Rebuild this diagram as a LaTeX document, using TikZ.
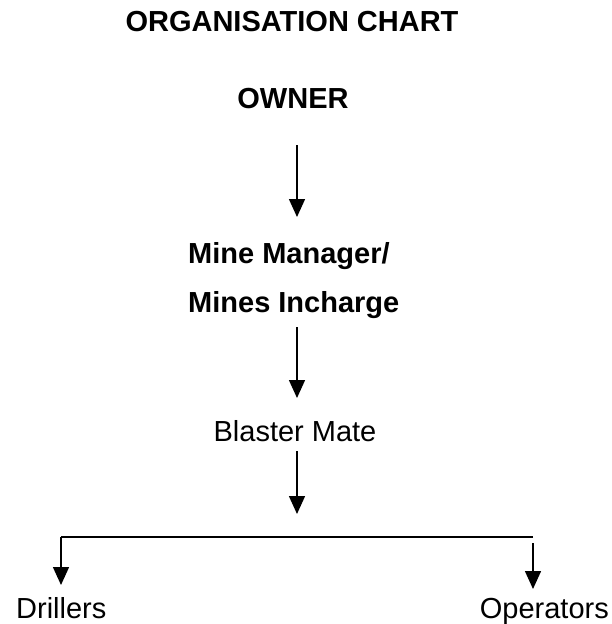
\documentclass[tikz,border=0pt]{standalone}
\usepackage{fontspec}
\setmainfont{Liberation Sans}
\usetikzlibrary{arrows.meta}
\begin{document}
\begin{tikzpicture}[x=1pt,y=-1pt,
  lbl/.style={inner sep=0pt,font=\fontsize{29}{34}\selectfont},
  blbl/.style={lbl,font=\fontsize{29}{34}\selectfont\bfseries},
  arr/.style={line width=1.5pt,-{Triangle[width=16pt,length=18pt]}},
  ln/.style={line width=1.5pt}]
\useasboundingbox (0,0) rectangle (612,624);
\node[blbl,anchor=base] (title) at (292,31) {ORGANISATION CHART};
\node[blbl,anchor=base] (owner) at (293,108) {OWNER};
\node[blbl,anchor=base west] (mm1) at (188,263) {Mine Manager/};
\node[blbl,anchor=base west] (mm2) at (188,312) {Mines Incharge};
\node[lbl,anchor=base] (blaster) at (295,441) {Blaster Mate};
\node[lbl,anchor=base west] (drill) at (16,618) {Drillers};
\node[lbl,anchor=base east] (oper) at (609,618) {Operators};
\coordinate (a1s) at (297,145);
\coordinate (a1e) at (297,217);
\coordinate (a2s) at (297,327);
\coordinate (a2e) at (297,398);
\coordinate (a3s) at (297,451);
\coordinate (a3e) at (297,514);
\coordinate (hl) at (61,537);
\coordinate (hr) at (533,537);
\coordinate (rs) at (533,543);
\coordinate (le) at (61,585);
\coordinate (re) at (533,589);
\draw[arr] (a1s) -- (a1e);
\draw[arr] (a2s) -- (a2e);
\draw[arr] (a3s) -- (a3e);
\draw[ln] (hr) -- (hl);
\draw[arr] (hl) -- (le);
\draw[arr] (rs) -- (re);
\end{tikzpicture}
\end{document}
